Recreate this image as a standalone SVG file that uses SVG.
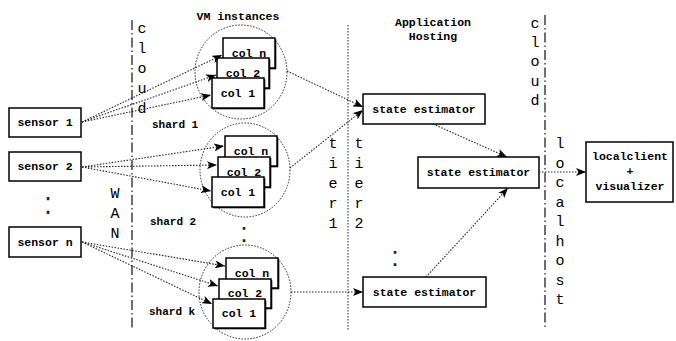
<svg xmlns="http://www.w3.org/2000/svg" width="676" height="341" viewBox="0 0 676 341">
<style>
.box{fill:#fff;stroke:#000;stroke-width:1.5}
.sh{fill:#000}
.lbl{font-family:"Liberation Mono",monospace;font-weight:bold;font-size:11.5px;fill:#000;text-anchor:middle}
.lbl2{font-family:"Liberation Mono",monospace;font-weight:bold;font-size:11px;fill:#000}
.vert{font-family:"Liberation Mono",monospace;font-size:15px;fill:#000;text-anchor:middle}
.dots{font-family:"Liberation Sans",sans-serif;font-size:27px;fill:#222;text-anchor:middle}
.con{fill:none;stroke:#222;stroke-width:1.1;stroke-dasharray:1.5 1.5}
.circ{fill:none;stroke:#222;stroke-width:1;stroke-dasharray:1.5 1.5}
.dd{fill:none;stroke:#222;stroke-width:1.3;stroke-dasharray:10 3 1.5 3}
.dot{fill:none;stroke:#222;stroke-width:1;stroke-dasharray:1.5 1.5}
</style>
<defs>
<marker id="ah" viewBox="0 0 10 8" refX="10" refY="4" markerWidth="10" markerHeight="8" markerUnits="userSpaceOnUse" orient="auto">
<path d="M0,0 L10,4 L0,8 L2.5,4 Z" fill="#000"/>
</marker>
</defs>
<rect width="676" height="341" fill="#fff"/>

<g id="separators">
<line class="dd" x1="132" y1="20" x2="132" y2="330"/>
<line class="dot" x1="348" y1="25" x2="348" y2="330"/>
<line class="dd" x1="545" y1="15" x2="545" y2="328"/>
</g>

<g id="zone-labels">
<text class="vert" x="142" y="33">c</text>
<text class="vert" x="142" y="53">l</text>
<text class="vert" x="142" y="73">o</text>
<text class="vert" x="142" y="93">u</text>
<text class="vert" x="142" y="113">d</text>
<text class="vert" x="115" y="198">W</text>
<text class="vert" x="115" y="218">A</text>
<text class="vert" x="115" y="238">N</text>
<text class="vert" x="333" y="148">t</text>
<text class="vert" x="333" y="168">i</text>
<text class="vert" x="333" y="188">e</text>
<text class="vert" x="333" y="208">r</text>
<text class="vert" x="333" y="228">1</text>
<text class="vert" x="359" y="148">t</text>
<text class="vert" x="359" y="168">i</text>
<text class="vert" x="359" y="188">e</text>
<text class="vert" x="359" y="208">r</text>
<text class="vert" x="359" y="228">2</text>
<text class="vert" x="535" y="28">c</text>
<text class="vert" x="535" y="47">l</text>
<text class="vert" x="535" y="66">o</text>
<text class="vert" x="535" y="86">u</text>
<text class="vert" x="535" y="105">d</text>
<text class="vert" x="560" y="148">l</text>
<text class="vert" x="560" y="167.5">o</text>
<text class="vert" x="560" y="187">c</text>
<text class="vert" x="560" y="206.5">a</text>
<text class="vert" x="560" y="226">l</text>
<text class="vert" x="560" y="245.5">h</text>
<text class="vert" x="560" y="265">o</text>
<text class="vert" x="560" y="284.5">s</text>
<text class="vert" x="560" y="304">t</text>
<text class="lbl" x="238" y="20">VM instances</text>
<text class="lbl" x="433" y="26">Application</text>
<text class="lbl" x="433" y="40">Hosting</text>
<text class="lbl2" x="152" y="128">shard 1</text>
<text class="lbl2" x="150" y="225">shard 2</text>
<text class="lbl2" x="149" y="315">shard k</text>
<text class="dots" x="48" y="214.5" transform="translate(48 214.5) scale(1 1.15) translate(-48 -214.5)">:</text>
<text class="dots" x="244" y="241.5">:</text>
<text class="dots" x="395" y="265.5">:</text>
</g>

<g id="shard1">
<ellipse class="circ" cx="241" cy="72" rx="46" ry="47"/>
<rect class="sh" x="224.3" y="39.3" width="52" height="30"/>
<rect class="box" x="223" y="38" width="52" height="30"/>
<text class="lbl" x="249" y="56.5">col n</text>
<rect class="sh" x="218.3" y="59.3" width="52" height="30"/>
<rect class="box" x="217" y="58" width="52" height="30"/>
<text class="lbl" x="243" y="76.5">col 2</text>
<rect class="sh" x="213.3" y="79.3" width="52" height="30"/>
<rect class="box" x="212" y="78" width="52" height="30"/>
<text class="lbl" x="238" y="96.5">col 1</text>
</g>

<g id="shard2">
<ellipse class="circ" cx="245" cy="170" rx="45" ry="47"/>
<rect class="sh" x="226.3" y="137.3" width="52" height="30"/>
<rect class="box" x="225" y="136" width="52" height="30"/>
<text class="lbl" x="251" y="154.5">col n</text>
<rect class="sh" x="219.3" y="158.3" width="52" height="30"/>
<rect class="box" x="218" y="157" width="52" height="30"/>
<text class="lbl" x="244" y="175.5">col 2</text>
<rect class="sh" x="213.3" y="178.3" width="52" height="30"/>
<rect class="box" x="212" y="177" width="52" height="30"/>
<text class="lbl" x="238" y="195.5">col 1</text>
</g>

<g id="shardk">
<ellipse class="circ" cx="245" cy="292" rx="46" ry="47"/>
<rect class="sh" x="227.3" y="259.3" width="52" height="30"/>
<rect class="box" x="226" y="258" width="52" height="30"/>
<text class="lbl" x="252" y="276.5">col n</text>
<rect class="sh" x="220.3" y="280.3" width="52" height="29"/>
<rect class="box" x="219" y="279" width="52" height="29"/>
<text class="lbl" x="245" y="297">col 2</text>
<rect class="sh" x="214.3" y="300.3" width="52" height="29"/>
<rect class="box" x="213" y="299" width="52" height="29"/>
<text class="lbl" x="239" y="317">col 1</text>
</g>

<g id="sensor1">
<rect class="box" x="9" y="108" width="72" height="29"/>
<text class="lbl" x="45" y="126">sensor 1</text>
</g>
<g id="sensor2">
<rect class="box" x="9" y="152" width="72" height="29"/>
<text class="lbl" x="45" y="170">sensor 2</text>
</g>
<g id="sensorn">
<rect class="box" x="9" y="227" width="72" height="30"/>
<text class="lbl" x="45" y="245.5">sensor n</text>
</g>

<g id="se1">
<rect class="box" x="363" y="94" width="122" height="30"/>
<text class="lbl" x="424" y="112.5">state estimator</text>
</g>
<g id="se2">
<rect class="box" x="418" y="157" width="121" height="31"/>
<text class="lbl" x="478.5" y="176">state estimator</text>
</g>
<g id="se3">
<rect class="box" x="363" y="277" width="123" height="30"/>
<text class="lbl" x="424.5" y="295.5">state estimator</text>
</g>
<g id="client">
<rect class="box" x="586" y="142" width="87" height="60"/>
<text class="lbl" x="630" y="160">localclient</text>
<text class="lbl" x="630" y="175">+</text>
<text class="lbl" x="630" y="190">visualizer</text>
</g>

<g id="connectors">
<line class="con" x1="82" y1="122" x2="222" y2="55" marker-end="url(#ah)"/>
<line class="con" x1="82" y1="122" x2="216" y2="75" marker-end="url(#ah)"/>
<line class="con" x1="82" y1="122" x2="211" y2="95" marker-end="url(#ah)"/>
<line class="con" x1="82" y1="167" x2="224" y2="146" marker-end="url(#ah)"/>
<line class="con" x1="82" y1="167" x2="217" y2="165" marker-end="url(#ah)"/>
<line class="con" x1="82" y1="167" x2="211" y2="191" marker-end="url(#ah)"/>
<line class="con" x1="82" y1="242" x2="225" y2="266" marker-end="url(#ah)"/>
<line class="con" x1="82" y1="242" x2="218" y2="286" marker-end="url(#ah)"/>
<line class="con" x1="82" y1="242" x2="212" y2="304" marker-end="url(#ah)"/>
<line class="con" x1="287" y1="71" x2="363" y2="107" marker-end="url(#ah)"/>
<line class="con" x1="290" y1="168" x2="363" y2="110" marker-end="url(#ah)"/>
<line class="con" x1="291" y1="292" x2="363" y2="292" marker-end="url(#ah)"/>
<line class="con" x1="433" y1="124" x2="507" y2="157" marker-end="url(#ah)"/>
<line class="con" x1="426" y1="277" x2="508" y2="188" marker-end="url(#ah)"/>
<line class="con" x1="539" y1="172" x2="586" y2="172" marker-end="url(#ah)"/>
</g>
</svg>
